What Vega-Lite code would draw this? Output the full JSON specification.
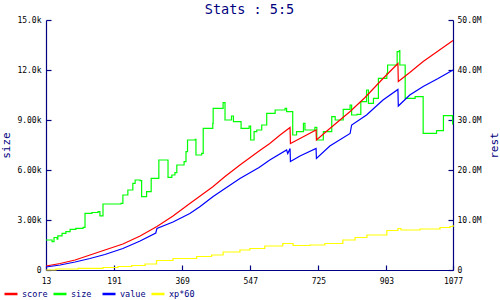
{
  "$schema": "https://vega.github.io/schema/vega-lite/v6.json",
  "width": 407,
  "height": 250,
  "autosize": {"type": "none"},
  "padding": {"left": 46, "top": 20, "right": 47, "bottom": 30},
  "background": "white",
  "title": {"text": "Stats : 5:5", "font": "DejaVu Sans Mono", "fontSize": 13.5, "fontWeight": "normal", "color": "#000080", "anchor": "middle", "offset": 0},
  "config": {
    "view": {"stroke": null},
    "axis": {"grid": false, "domainColor": "#000080", "tickColor": "#000080", "labelColor": "black", "labelFont": "DejaVu Sans Mono", "labelFontSize": 8, "titleFont": "DejaVu Sans Mono", "titleFontSize": 11, "titleFontWeight": "normal", "titleColor": "#000080", "domainWidth": 1.2, "tickWidth": 1.2, "tickSize": -5},
    "legend": {"labelFont": "DejaVu Sans Mono", "labelFontSize": 8.5, "labelColor": "#000080"}
  },
  "data": {"values": [
    {"x": 13, "series": "size", "v": 1800},
    {"x": 29, "series": "size", "v": 1700},
    {"x": 34, "series": "size", "v": 1950},
    {"x": 42, "series": "size", "v": 1850},
    {"x": 44, "series": "size", "v": 2050},
    {"x": 55, "series": "size", "v": 2200},
    {"x": 65, "series": "size", "v": 2300},
    {"x": 76, "series": "size", "v": 2440},
    {"x": 91, "series": "size", "v": 2500},
    {"x": 110, "series": "size", "v": 2560},
    {"x": 115, "series": "size", "v": 3400},
    {"x": 133, "series": "size", "v": 3450},
    {"x": 149, "series": "size", "v": 3500},
    {"x": 154, "series": "size", "v": 3250},
    {"x": 162, "series": "size", "v": 3960},
    {"x": 209, "series": "size", "v": 4000},
    {"x": 214, "series": "size", "v": 4500},
    {"x": 227, "series": "size", "v": 4800},
    {"x": 240, "series": "size", "v": 5200},
    {"x": 246, "series": "size", "v": 5400},
    {"x": 259, "series": "size", "v": 5360},
    {"x": 263, "series": "size", "v": 4400},
    {"x": 276, "series": "size", "v": 4700},
    {"x": 288, "series": "size", "v": 5500},
    {"x": 308, "series": "size", "v": 6600},
    {"x": 332, "series": "size", "v": 5560},
    {"x": 342, "series": "size", "v": 5700},
    {"x": 350, "series": "size", "v": 5840},
    {"x": 355, "series": "size", "v": 6300},
    {"x": 374, "series": "size", "v": 6500},
    {"x": 379, "series": "size", "v": 7100},
    {"x": 383, "series": "size", "v": 7800},
    {"x": 403, "series": "size", "v": 7840},
    {"x": 405, "series": "size", "v": 6900},
    {"x": 420, "series": "size", "v": 7000},
    {"x": 424, "series": "size", "v": 8500},
    {"x": 449, "series": "size", "v": 8800},
    {"x": 450, "series": "size", "v": 9700},
    {"x": 476, "series": "size", "v": 10040},
    {"x": 481, "series": "size", "v": 9000},
    {"x": 498, "series": "size", "v": 9240},
    {"x": 503, "series": "size", "v": 8900},
    {"x": 523, "series": "size", "v": 8500},
    {"x": 544, "series": "size", "v": 8640},
    {"x": 548, "series": "size", "v": 7800},
    {"x": 557, "series": "size", "v": 8300},
    {"x": 564, "series": "size", "v": 8400},
    {"x": 577, "series": "size", "v": 8700},
    {"x": 590, "series": "size", "v": 9400},
    {"x": 612, "series": "size", "v": 9600},
    {"x": 638, "series": "size", "v": 9700},
    {"x": 642, "series": "size", "v": 9500},
    {"x": 658, "series": "size", "v": 8100},
    {"x": 668, "series": "size", "v": 8300},
    {"x": 686, "series": "size", "v": 8800},
    {"x": 690, "series": "size", "v": 8400},
    {"x": 716, "series": "size", "v": 8560},
    {"x": 721, "series": "size", "v": 7800},
    {"x": 738, "series": "size", "v": 8300},
    {"x": 760, "series": "size", "v": 9200},
    {"x": 769, "series": "size", "v": 9000},
    {"x": 790, "series": "size", "v": 9640},
    {"x": 808, "series": "size", "v": 9900},
    {"x": 812, "series": "size", "v": 9300},
    {"x": 826, "series": "size", "v": 9340},
    {"x": 836, "series": "size", "v": 10100},
    {"x": 851, "series": "size", "v": 10800},
    {"x": 856, "series": "size", "v": 10000},
    {"x": 869, "series": "size", "v": 10300},
    {"x": 882, "series": "size", "v": 11500},
    {"x": 904, "series": "size", "v": 11800},
    {"x": 906, "series": "size", "v": 12300},
    {"x": 931, "series": "size", "v": 13100},
    {"x": 937, "series": "size", "v": 13160},
    {"x": 938, "series": "size", "v": 12300},
    {"x": 952, "series": "size", "v": 10300},
    {"x": 978, "series": "size", "v": 10400},
    {"x": 999, "series": "size", "v": 8200},
    {"x": 1034, "series": "size", "v": 8360},
    {"x": 1052, "series": "size", "v": 9260},
    {"x": 1076, "series": "size", "v": 8760},
    {"x": 1077, "series": "size", "v": 8760},

    {"x": 13, "series": "score", "v": 800000},
    {"x": 50, "series": "score", "v": 1300000},
    {"x": 89, "series": "score", "v": 2000000},
    {"x": 128, "series": "score", "v": 3000000},
    {"x": 167, "series": "score", "v": 4000000},
    {"x": 214, "series": "score", "v": 5200000},
    {"x": 259, "series": "score", "v": 6800000},
    {"x": 303, "series": "score", "v": 8700000},
    {"x": 345, "series": "score", "v": 10800000},
    {"x": 389, "series": "score", "v": 13300000},
    {"x": 416, "series": "score", "v": 14800000},
    {"x": 450, "series": "score", "v": 16700000},
    {"x": 481, "series": "score", "v": 18700000},
    {"x": 520, "series": "score", "v": 21000000},
    {"x": 570, "series": "score", "v": 23800000},
    {"x": 598, "series": "score", "v": 25300000},
    {"x": 625, "series": "score", "v": 27000000},
    {"x": 651, "series": "score", "v": 28500000},
    {"x": 652, "series": "score", "v": 25300000},
    {"x": 677, "series": "score", "v": 26300000},
    {"x": 719, "series": "score", "v": 28000000},
    {"x": 720, "series": "score", "v": 26000000},
    {"x": 755, "series": "score", "v": 28300000},
    {"x": 808, "series": "score", "v": 31700000},
    {"x": 847, "series": "score", "v": 34500000},
    {"x": 894, "series": "score", "v": 38300000},
    {"x": 933, "series": "score", "v": 41300000},
    {"x": 934, "series": "score", "v": 37700000},
    {"x": 964, "series": "score", "v": 39500000},
    {"x": 999, "series": "score", "v": 41700000},
    {"x": 1038, "series": "score", "v": 43800000},
    {"x": 1077, "series": "score", "v": 45900000},

    {"x": 13, "series": "value", "v": 600000},
    {"x": 50, "series": "value", "v": 1000000},
    {"x": 89, "series": "value", "v": 1600000},
    {"x": 128, "series": "value", "v": 2300000},
    {"x": 167, "series": "value", "v": 3100000},
    {"x": 214, "series": "value", "v": 4300000},
    {"x": 259, "series": "value", "v": 5800000},
    {"x": 300, "series": "value", "v": 7400000},
    {"x": 303, "series": "value", "v": 8300000},
    {"x": 345, "series": "value", "v": 9600000},
    {"x": 389, "series": "value", "v": 11300000},
    {"x": 416, "series": "value", "v": 12700000},
    {"x": 450, "series": "value", "v": 14700000},
    {"x": 481, "series": "value", "v": 16300000},
    {"x": 520, "series": "value", "v": 18300000},
    {"x": 570, "series": "value", "v": 20500000},
    {"x": 598, "series": "value", "v": 22000000},
    {"x": 642, "series": "value", "v": 24000000},
    {"x": 645, "series": "value", "v": 23300000},
    {"x": 651, "series": "value", "v": 24300000},
    {"x": 652, "series": "value", "v": 21700000},
    {"x": 677, "series": "value", "v": 22800000},
    {"x": 719, "series": "value", "v": 24300000},
    {"x": 720, "series": "value", "v": 22300000},
    {"x": 755, "series": "value", "v": 24800000},
    {"x": 808, "series": "value", "v": 27300000},
    {"x": 812, "series": "value", "v": 29000000},
    {"x": 851, "series": "value", "v": 31000000},
    {"x": 894, "series": "value", "v": 34000000},
    {"x": 933, "series": "value", "v": 36100000},
    {"x": 934, "series": "value", "v": 32800000},
    {"x": 964, "series": "value", "v": 35000000},
    {"x": 999, "series": "value", "v": 36700000},
    {"x": 1038, "series": "value", "v": 38300000},
    {"x": 1077, "series": "value", "v": 40000000},

    {"x": 13, "series": "xp*60", "v": 0},
    {"x": 39, "series": "xp*60", "v": 200000},
    {"x": 97, "series": "xp*60", "v": 330000},
    {"x": 162, "series": "xp*60", "v": 500000},
    {"x": 201, "series": "xp*60", "v": 700000},
    {"x": 237, "series": "xp*60", "v": 900000},
    {"x": 272, "series": "xp*60", "v": 1200000},
    {"x": 302, "series": "xp*60", "v": 1900000},
    {"x": 345, "series": "xp*60", "v": 2300000},
    {"x": 407, "series": "xp*60", "v": 2700000},
    {"x": 446, "series": "xp*60", "v": 3000000},
    {"x": 476, "series": "xp*60", "v": 3600000},
    {"x": 520, "series": "xp*60", "v": 4000000},
    {"x": 546, "series": "xp*60", "v": 4300000},
    {"x": 585, "series": "xp*60", "v": 4800000},
    {"x": 632, "series": "xp*60", "v": 5300000},
    {"x": 659, "series": "xp*60", "v": 4900000},
    {"x": 703, "series": "xp*60", "v": 5000000},
    {"x": 742, "series": "xp*60", "v": 5300000},
    {"x": 789, "series": "xp*60", "v": 6000000},
    {"x": 821, "series": "xp*60", "v": 6500000},
    {"x": 852, "series": "xp*60", "v": 7000000},
    {"x": 904, "series": "xp*60", "v": 7900000},
    {"x": 933, "series": "xp*60", "v": 8300000},
    {"x": 941, "series": "xp*60", "v": 8000000},
    {"x": 991, "series": "xp*60", "v": 8200000},
    {"x": 1043, "series": "xp*60", "v": 8500000},
    {"x": 1069, "series": "xp*60", "v": 8700000},
    {"x": 1077, "series": "xp*60", "v": 9000000}
  ]},
  "encoding": {
    "x": {"field": "x", "type": "quantitative", "scale": {"domain": [13, 1077], "nice": false, "zero": false},
      "axis": {"values": [13, 191, 369, 547, 725, 903, 1077], "format": "d", "title": null, "labelPadding": 12, "labelFlush": false}},
    "color": {"field": "series", "type": "nominal",
      "scale": {"domain": ["score", "size", "value", "xp*60"], "range": ["#ff0000", "#00ff00", "#0000ff", "#ffff00"]},
      "legend": {"title": null, "orient": "none", "direction": "horizontal", "columns": 4, "gridAlign": "all", "legendX": -43, "legendY": 266, "symbolType": "stroke", "symbolSize": 169, "symbolStrokeWidth": 2.5, "labelOffset": 3, "columnPadding": 0}}
  },
  "layer": [
    {
      "transform": [{"filter": "datum.series == 'size'"}],
      "mark": {"type": "line", "interpolate": "step-after", "strokeWidth": 1.2},
      "encoding": {
        "y": {"field": "v", "type": "quantitative", "scale": {"domain": [0, 15000], "nice": false},
          "axis": {"orient": "left", "title": "size", "values": [0, 3000, 6000, 9000, 12000, 15000], "labelExpr": "datum.value == 0 ? '0' : format(datum.value / 1000, '.3r') + 'k'", "labelPadding": 10, "titlePadding": 5}}
      }
    },
    {
      "layer": [
        {
          "transform": [{"filter": "datum.series == 'score' || datum.series == 'value'"}],
          "mark": {"type": "line", "strokeWidth": 1.2},
          "encoding": {
            "y": {"field": "v", "type": "quantitative", "scale": {"domain": [0, 50000000], "nice": false},
              "axis": {"orient": "right", "title": "rest", "titleAngle": -90, "values": [0, 10000000, 20000000, 30000000, 40000000, 50000000], "labelExpr": "datum.value == 0 ? '0' : format(datum.value / 1000000, '.3r') + 'M'", "labelPadding": 9, "titlePadding": 18}}
          }
        },
        {
          "transform": [{"filter": "datum.series == 'xp*60'"}],
          "mark": {"type": "line", "interpolate": "step-after", "strokeWidth": 1.2},
          "encoding": {
            "y": {"field": "v", "type": "quantitative", "scale": {"domain": [0, 50000000], "nice": false}}
          }
        }
      ]
    }
  ],
  "resolve": {"scale": {"y": "independent"}}
}
